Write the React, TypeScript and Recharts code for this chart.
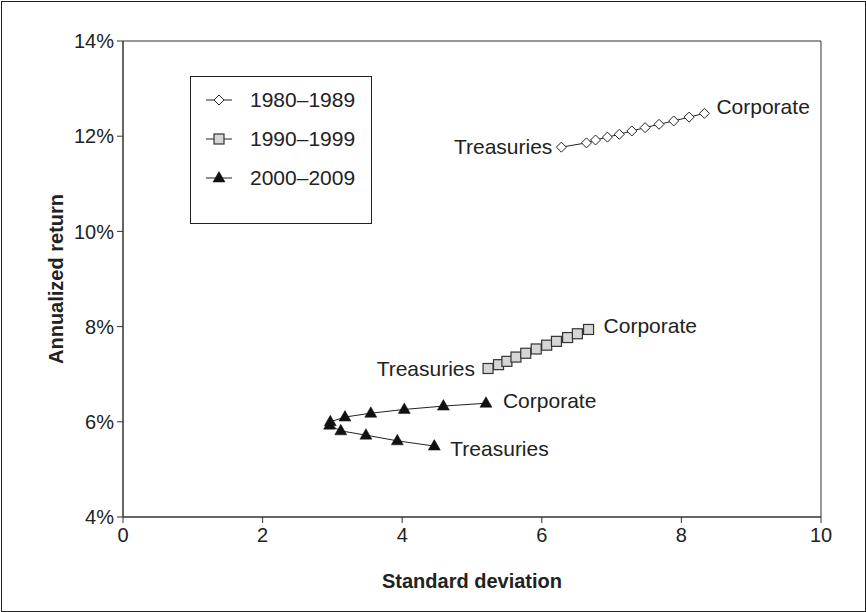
import React from 'react';
import {
  ScatterChart,
  Scatter,
  XAxis,
  YAxis,
  ReferenceArea,
  Legend
} from 'recharts';

// std dev / annualized return for mixes from 100% Treasuries to 100% Corporate
const std1980s = [6.28, 6.64, 6.77, 6.94, 7.11, 7.29, 7.48, 7.68, 7.89, 8.11, 8.33];
const ret1980s = [11.77, 11.86, 11.92, 11.98, 12.04, 12.11, 12.18, 12.25, 12.32, 12.40, 12.48];

const std1990s = [5.23, 5.38, 5.5, 5.63, 5.77, 5.92, 6.07, 6.21, 6.37, 6.51, 6.67];
const ret1990s = [7.12, 7.2, 7.27, 7.36, 7.44, 7.53, 7.61, 7.69, 7.77, 7.85, 7.94];

const std2000s = [4.46, 3.93, 3.48, 3.12, 2.96, 2.97, 3.18, 3.55, 4.03, 4.59, 5.2];
const ret2000s = [5.49, 5.6, 5.72, 5.81, 5.93, 6.0, 6.1, 6.18, 6.26, 6.33, 6.39];

const xTicks = [0, 2, 4, 6, 8, 10];
const yTicks = [4, 6, 8, 10, 12, 14];

const FONT = '"Liberation Sans", Arial, Helvetica, sans-serif';
const INK = '#222';

type Marker = 'diamond' | 'square' | 'triangle';

const toPoints = (std: number[], ret: number[]) =>
  std.map((s, i) => ({
    std: s,
    ret: ret[i],
    tag: i === 0 ? 'Treasuries' : i === std.length - 1 ? 'Corporate' : ''
  }));

// label placement per series: treasuries side / gap / vertical nudge, corporate gap / nudge
const series = [
  {
    name: '1980\u20131989',
    marker: 'diamond' as Marker,
    data: toPoints(std1980s, ret1980s),
    treas: { side: 'left', gap: 9, dy: 0 },
    corp: { gap: 12, dy: -7 }
  },
  {
    name: '1990\u20131999',
    marker: 'square' as Marker,
    data: toPoints(std1990s, ret1990s),
    treas: { side: 'left', gap: 13, dy: 0 },
    corp: { gap: 15, dy: -4 }
  },
  {
    name: '2000\u20132009',
    marker: 'triangle' as Marker,
    data: toPoints(std2000s, ret2000s),
    treas: { side: 'right', gap: 16, dy: 3 },
    corp: { gap: 17, dy: -3 }
  }
];

const drawMarker = (marker: Marker, cx: number, cy: number) => {
  if (marker === 'diamond') {
    return (
      <polygon
        points={`${cx},${cy - 5} ${cx + 5},${cy} ${cx},${cy + 5} ${cx - 5},${cy}`}
        fill="#fff"
        stroke={INK}
        strokeWidth={1}
      />
    );
  }
  if (marker === 'square') {
    return <rect x={cx - 5} y={cy - 5} width={10} height={10} fill="#d6d6d6" stroke="#333" strokeWidth={1.2} />;
  }
  return (
    <polygon
      points={`${cx},${cy - 6.5} ${cx + 6},${cy + 4} ${cx - 6},${cy + 4}`}
      fill="#111"
      stroke="#111"
      strokeWidth={0.5}
    />
  );
};

const makeShape = (s: typeof series[number]) => (props: any) => {
  const { cx, cy, payload } = props;
  const tag = payload?.tag;
  let label = null;
  if (tag) {
    const isTreas = tag === 'Treasuries';
    const left = isTreas && s.treas.side === 'left';
    const gap = isTreas ? s.treas.gap : s.corp.gap;
    const dy = isTreas ? s.treas.dy : s.corp.dy;
    label = (
      <text
        x={left ? cx - gap : cx + gap}
        y={cy + dy}
        dy="0.35em"
        textAnchor={left ? 'end' : 'start'}
        fontFamily={FONT}
        fontSize={21}
        fill={INK}
      >
        {tag}
      </text>
    );
  }
  return (
    <g>
      {drawMarker(s.marker, cx, cy)}
      {label}
    </g>
  );
};

const LegendBox = () => (
  <div
    style={{
      width: 182,
      height: 148,
      boxSizing: 'border-box',
      border: `1px solid ${INK}`,
      background: '#fff',
      paddingTop: 3,
      fontFamily: FONT,
      fontSize: 21,
      color: INK
    }}
  >
    {series.map((s) => (
      <div key={s.name} style={{ display: 'flex', alignItems: 'center', height: 39 }}>
        <svg width={30} height={20} style={{ marginLeft: 13, marginRight: 16 }}>
          <line x1={2} y1={10} x2={28} y2={10} stroke={INK} strokeWidth={1} />
          {drawMarker(s.marker, 15, 10)}
        </svg>
        <span>{s.name}</span>
      </div>
    ))}
  </div>
);

export default function App() {
  return (
    <div style={{ position: 'absolute', left: 0, top: 0, width: 866, height: 612, background: '#fff' }}>
      <div
        style={{
          position: 'absolute',
          left: 1,
          top: 1,
          width: 863,
          height: 609,
          border: `1px solid ${INK}`,
          pointerEvents: 'none'
        }}
      />
      <ScatterChart width={866} height={612} margin={{ top: 41, right: 45, bottom: 35, left: 63 }}>
        <ReferenceArea x1={0} x2={10} y1={4} y2={14} fill="none" stroke="#333" strokeWidth={1} ifOverflow="visible" />
        <XAxis
          type="number"
          dataKey="std"
          domain={[0, 10]}
          ticks={xTicks}
          height={60}
          stroke="#333"
          tickSize={6}
          tickMargin={5}
          tick={{ fill: INK, fontSize: 20, fontFamily: FONT }}
          label={{
            content: (p: any) => {
              const vb = p.viewBox;
              return (
                <text
                  x={vb.x + vb.width / 2}
                  y={588}
                  textAnchor="middle"
                  fontFamily={FONT}
                  fontWeight="bold"
                  fontSize={20}
                  fill={INK}
                >
                  Standard deviation
                </text>
              );
            }
          }}
        />
        <YAxis
          type="number"
          dataKey="ret"
          domain={[4, 14]}
          ticks={yTicks}
          width={60}
          stroke="#333"
          tickSize={6}
          tickMargin={3}
          tickFormatter={(v: number) => `${v}%`}
          tick={{ fill: INK, fontSize: 20, fontFamily: FONT }}
          label={{
            content: (p: any) => {
              const vb = p.viewBox;
              const cy = vb.y + vb.height / 2;
              return (
                <text
                  x={56}
                  y={cy}
                  transform={`rotate(-90, 56, ${cy})`}
                  textAnchor="middle"
                  dominantBaseline="central"
                  fontFamily={FONT}
                  fontWeight="bold"
                  fontSize={20}
                  fill={INK}
                >
                  Annualized return
                </text>
              );
            }
          }}
        />
        <Legend
          layout="vertical"
          align="center"
          verticalAlign="middle"
          content={() => <LegendBox />}
          wrapperStyle={{ left: 190, top: 76, width: 182, height: 148 }}
        />
        {series.map((s) => (
          <Scatter
            key={s.name}
            name={s.name}
            data={s.data}
            line={{ stroke: INK, strokeWidth: 1 }}
            lineType="joint"
            shape={makeShape(s)}
            isAnimationActive={false}
          />
        ))}
      </ScatterChart>
    </div>
  );
}
